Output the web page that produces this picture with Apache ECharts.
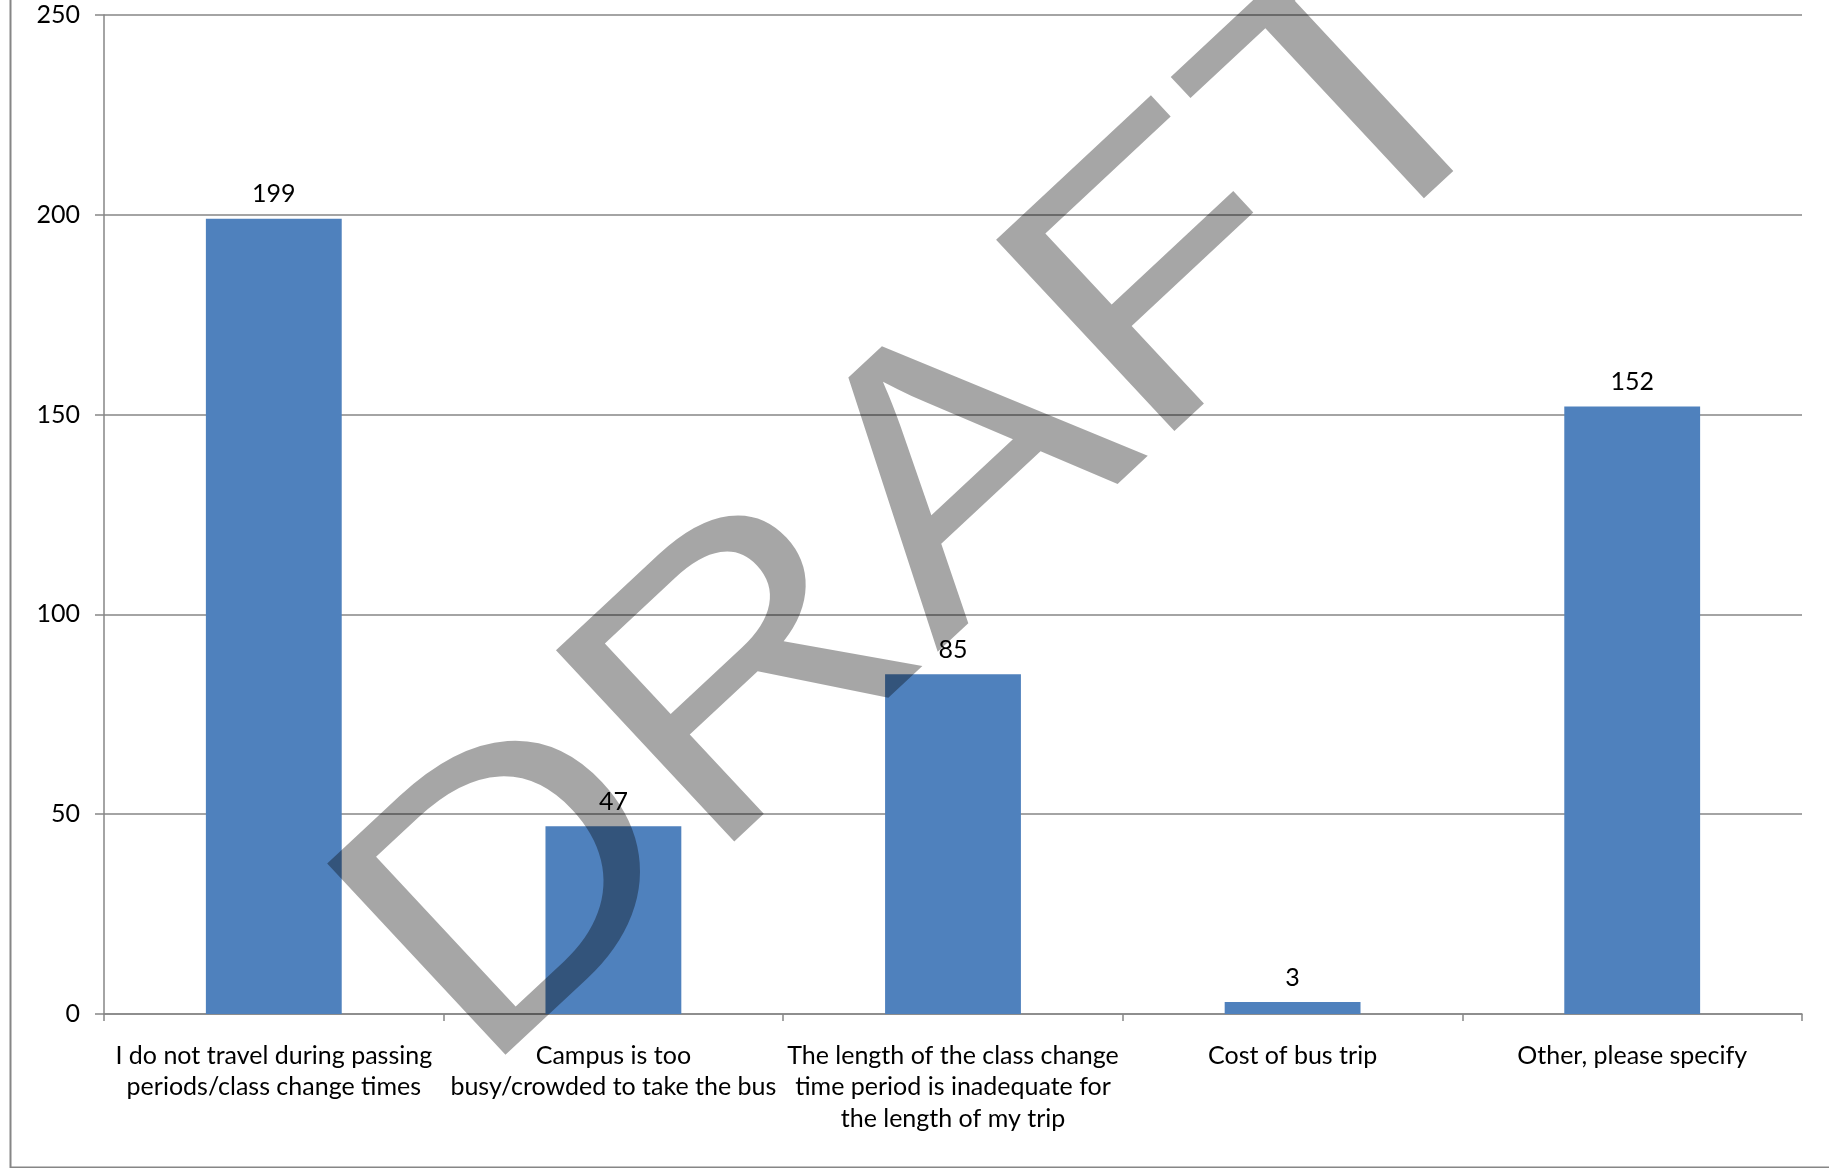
<!DOCTYPE html>
<html><head><meta charset="utf-8">
<script src="https://cdn.jsdelivr.net/npm/echarts@6/dist/echarts.min.js"></script>
<style>html,body{margin:0;padding:0;background:#fff}#c{width:1829px;height:1168px}</style>
</head><body><div id="c"></div>
<script>
const categories = [
  "I do not travel during passing\nperiods/class change times",
  "Campus is too\nbusy/crowded to take the bus",
  "The length of the class change\ntime period is inadequate for\nthe length of my trip",
  "Cost of bus trip",
  "Other, please specify"
];
const values = [199, 47, 85, 3, 152];
const yTicks = {min: 0, max: 250, interval: 50};

const FONT = 'Lato';
const chart = echarts.init(document.getElementById('c'), null, {renderer: 'canvas'});
chart.setOption({
  animation: false,
  backgroundColor: '#ffffff',
  grid: {left: 104, right: 27, top: 15, bottom: 154, containLabel: false},
  xAxis: {
    type: 'category', data: categories,
    axisLine: {lineStyle: {color: '#868686', width: 1.5}},
    axisTick: {show: true, length: 7, lineStyle: {color: '#868686', width: 1.5}},
    axisLabel: {color: '#000', fontFamily: FONT, fontSize: 25, lineHeight: 31.5, margin: 26, interval: 0}
  },
  yAxis: {
    type: 'value', min: yTicks.min, max: yTicks.max, interval: yTicks.interval,
    axisLine: {show: true, lineStyle: {color: '#868686', width: 1.5}},
    axisTick: {show: true, length: 9, lineStyle: {color: '#868686', width: 1.5}},
    splitLine: {lineStyle: {color: '#868686', width: 1.5}},
    axisLabel: {color: '#000', fontFamily: FONT, fontSize: 25, margin: 24}
  },
  series: [{
    type: 'bar', data: values, barWidth: '40%',
    itemStyle: {color: '#4f81bd'},
    label: {show: true, position: 'top', distance: 12, color: '#000', fontFamily: FONT, fontSize: 25}
  }],
  graphic: [
    {type: 'rect', left: 8, top: -5, z: 0, shape: {width: 1840, height: 1170}, style: {fill: null, stroke: '#868686', lineWidth: 2}, silent: true},
    {type: 'text', x: 936, y: 510, rotation: 43 * Math.PI / 180, scaleX: 1.14, scaleY: 1, z: 100,
     style: {text: 'DRAFT', fontFamily: 'Liberation Sans', fontSize: 380, fill: 'rgba(0,0,0,0.35)', textAlign: 'center', textVerticalAlign: 'middle'}}
  ]
});
</script></body></html>
